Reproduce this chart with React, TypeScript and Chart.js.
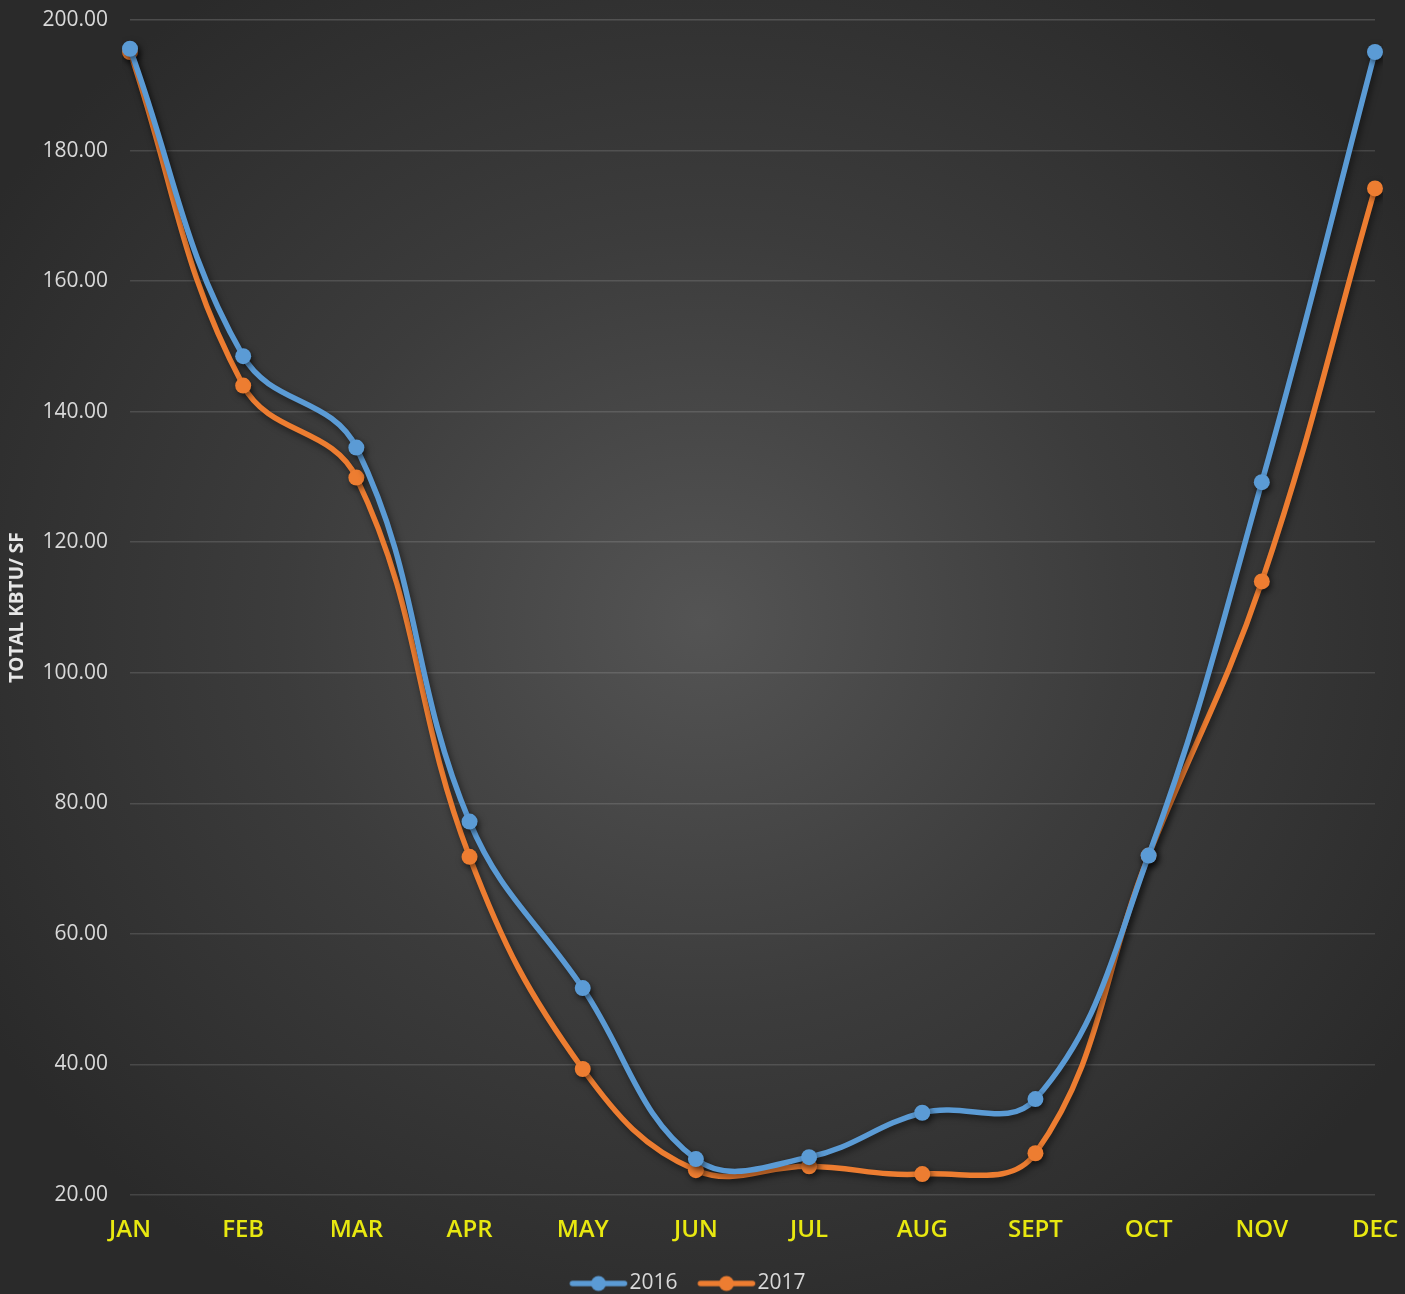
import React, { useEffect, useRef } from "react";
import { Chart, registerables } from "chart.js";

Chart.register(...registerables);

const months = ["JAN", "FEB", "MAR", "APR", "MAY", "JUN", "JUL", "AUG", "SEPT", "OCT", "NOV", "DEC"];
const series2016 = [195.6, 148.5, 134.5, 77.2, 51.7, 25.5, 25.8, 32.6, 34.7, 72.0, 129.2, 195.1];
const series2017 = [195.1, 144.0, 129.9, 71.8, 39.3, 23.8, 24.4, 23.2, 26.4, 72.0, 114.0, 174.2];
const yTitle = "TOTAL KBTU/ SF";

const BLUE = "#5b9bd5";
const ORANGE = "#ed7d31";

// legend icon: line with a dot; the canvas is wider than the legend box so the
// visible icon starts at the left edge of the box
function legendIcon(color: string) {
  const c = document.createElement("canvas");
  c.width = 100;
  c.height = 18;
  const ctx = c.getContext("2d")!;
  const o = 25.25;
  ctx.strokeStyle = color;
  ctx.lineWidth = 5.5;
  ctx.lineCap = "round";
  ctx.beginPath();
  ctx.moveTo(o + 3, 9);
  ctx.lineTo(o + 55, 9);
  ctx.stroke();
  ctx.fillStyle = color;
  ctx.beginPath();
  ctx.arc(o + 29, 9, 7.5, 0, Math.PI * 2);
  ctx.fill();
  return c;
}

const shadowPlugin = {
  id: "lineShadow",
  beforeDatasetsDraw(chart: any) {
    const ctx = chart.ctx;
    ctx.save();
    ctx.shadowColor = "rgba(0,0,0,0.55)";
    ctx.shadowBlur = 7;
    ctx.shadowOffsetX = 2;
    ctx.shadowOffsetY = 3;
  },
  afterDatasetsDraw(chart: any) {
    chart.ctx.restore();
  },
};

export default function App() {
  const ref = useRef<HTMLCanvasElement>(null);

  useEffect(() => {
    document.body.style.margin = "0";
    const icons = [legendIcon(BLUE), legendIcon(ORANGE)];
    const chart = new Chart(ref.current!, {
      type: "line",
      data: {
        labels: months,
        datasets: [
          {
            label: "2016",
            data: series2016,
            borderColor: BLUE,
            backgroundColor: BLUE,
            borderWidth: 5.5,
            pointRadius: 8,
            pointBorderWidth: 0,
            pointBackgroundColor: BLUE,
            pointStyle: "circle",
            tension: 0.4,
          },
          {
            label: "2017",
            data: series2017,
            borderColor: ORANGE,
            backgroundColor: ORANGE,
            borderWidth: 5.5,
            pointRadius: 8,
            pointBorderWidth: 0,
            pointBackgroundColor: ORANGE,
            pointStyle: "circle",
            tension: 0.4,
          },
        ],
      },
      options: {
        animation: false,
        responsive: false,
        layout: { padding: { top: 20, right: 30, left: 0, bottom: -10 } },
        plugins: {
          tooltip: { enabled: false },
          legend: {
            position: "bottom",
            labels: {
              usePointStyle: true,
              pointStyleWidth: 49.5,
              color: "#d9d9d9",
              font: { family: "'Open Sans'", size: 21 },
              padding: 20,
              generateLabels: (ch: any) =>
                ch.data.datasets.map((ds: any, i: number) => ({
                  text: ds.label,
                  fillStyle: ds.borderColor,
                  strokeStyle: ds.borderColor,
                  pointStyle: icons[i],
                  fontColor: "#d9d9d9",
                  lineWidth: 0,
                  hidden: false,
                  datasetIndex: i,
                })),
            },
          },
        },
        scales: {
          x: {
            offset: false,
            afterFit: (scale: any) => {
              scale.paddingLeft = 0;
              scale.paddingRight = 0;
              scale.paddingBottom = 0;
              scale.paddingTop = 0;
              scale.height = 58;
            },
            grid: { display: false, drawTicks: false },
            border: { display: false },
            ticks: {
              color: "#e8e810",
              padding: 15,
              font: { family: "'Open Sans'", size: 24, weight: "600", lineHeight: 1.65 },
              maxRotation: 0,
              autoSkip: false,
            },
          },
          y: {
            min: 20,
            max: 200,
            afterFit: (scale: any) => {
              scale.width = 130;
              scale.paddingTop = 0;
              scale.paddingBottom = 0;
            },
            grid: {
              drawTicks: false,
              color: (c: any) => (c.tick && c.tick.value === 200 ? "rgba(255,255,255,0.16)" : "rgba(255,255,255,0.13)"),
              lineWidth: 1.5,
            },
            border: { display: false },
            ticks: {
              stepSize: 20,
              color: "#d9d9d9",
              padding: 22,
              font: { family: "'Open Sans'", size: 21 },
              callback: (v: any) => Number(v).toFixed(2),
            },
            title: {
              display: true,
              text: yTitle,
              color: "#e6e6e6",
              font: { family: "'Open Sans'", size: 19, weight: "bold" },
              padding: { top: 6, bottom: 0 },
            },
          },
        },
      },
      plugins: [shadowPlugin],
    });
    return () => chart.destroy();
  }, []);

  return (
    <div
      style={{
        width: 1405,
        height: 1294,
        background: "radial-gradient(ellipse 60% 60% at 50% 48%, #545454 0%, #3c3c3c 50%, #2a2a2a 100%)",
      }}
    >
      <canvas ref={ref} width={1405} height={1294} style={{ display: "block" }} />
    </div>
  );
}
